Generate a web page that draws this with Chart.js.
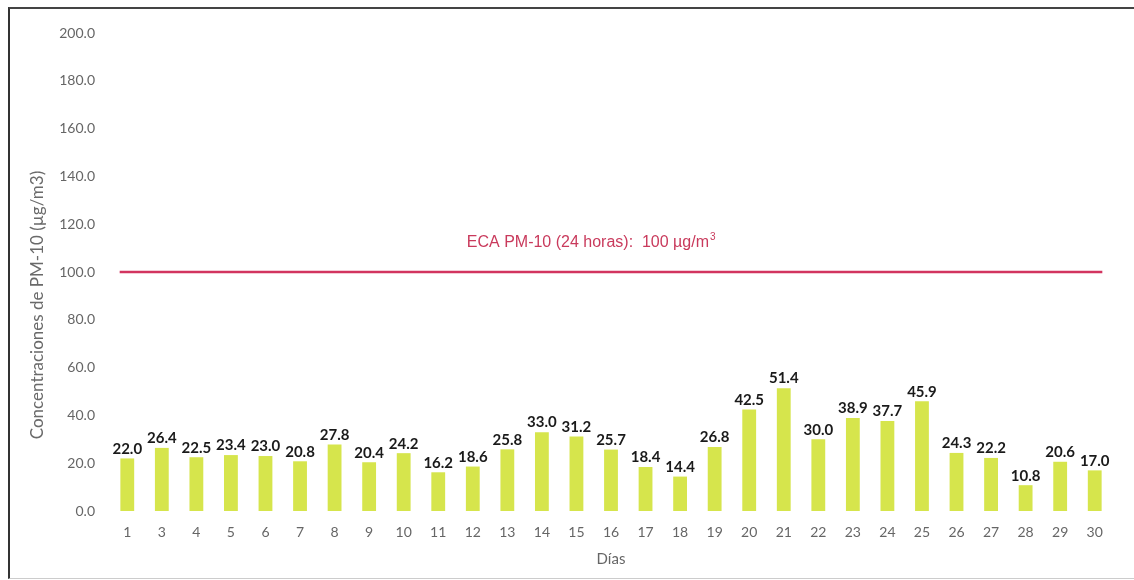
<!DOCTYPE html>
<html>
<head>
<meta charset="utf-8">
<script src="https://cdn.jsdelivr.net/npm/chart.js@4/dist/chart.umd.min.js"></script>
<style>
  html,body{margin:0;padding:0;background:#fff;}
  #wrap{position:relative;width:1134px;height:580px;}
  #frame{position:absolute;left:8px;top:7px;right:0;bottom:1px;border-left:2px solid #333;border-top:2px solid #444;border-bottom:1px solid #ccc;}
  canvas{position:absolute;left:0;top:0;}
</style>
</head>
<body>
<div id="wrap">
  <div id="frame"></div>
  <canvas id="chart" width="1134" height="580"></canvas>
</div>
<script>
// days (day 2 missing in the source)
const days = ['1','3','4','5','6','7','8','9','10','11','12','13','14','15','16','17','18','19','20','21','22','23','24','25','26','27','28','29','30'];
const pm10 = [22.0,26.4,22.5,23.4,23.0,20.8,27.8,20.4,24.2,16.2,18.6,25.8,33.0,31.2,25.7,18.4,14.4,26.8,42.5,51.4,30.0,38.9,37.7,45.9,24.3,22.2,10.8,20.6,17.0];
const ecaLimit = 100;
const yTitle = 'Concentraciones de PM-10 (\u00b5g/m3)';

// value labels above each bar
const barLabels = {
  id:'barLabels',
  afterDatasetsDraw(chart){
    const ctx = chart.ctx;
    const meta = chart.getDatasetMeta(0);
    ctx.save();
    ctx.font = 'bold 15px Lato, "Open Sans", sans-serif';
    ctx.fillStyle = '#1a1a1a';
    ctx.textAlign = 'center';
    ctx.textBaseline = 'bottom';
    meta.data.forEach((bar,i)=>{
      ctx.fillText(pm10[i].toFixed(1), bar.x, bar.y - 2);
    });
    ctx.restore();
  }
};

// ECA reference line + caption, and the y title (placed a bit below centre like the source)
const ecaLine = {
  id:'ecaLine',
  afterDatasetsDraw(chart){
    const ctx = chart.ctx;
    const x = chart.scales.x, y = chart.scales.y;
    const yp = y.getPixelForValue(ecaLimit);
    const half = (x.getPixelForValue(1) - x.getPixelForValue(0)) * 0.22;
    const x0 = x.getPixelForValue(0) - half;
    const x1 = x.getPixelForValue(days.length-1) + half;
    ctx.save();
    ctx.strokeStyle = '#d2345f';
    ctx.lineWidth = 2.5;
    ctx.beginPath(); ctx.moveTo(x0, yp); ctx.lineTo(x1, yp); ctx.stroke();
    ctx.font = '16px "Liberation Sans", Arial, sans-serif';
    ctx.fillStyle = '#c93a5c';
    ctx.textAlign = 'left';
    ctx.textBaseline = 'alphabetic';
    const tx = x.getPixelForValue(10) - 6;
    const base = 'ECA PM-10 (24 horas):  100 \u00b5g/m';
    ctx.fillText(base, tx, yp - 25);
    const w = ctx.measureText(base).width;
    ctx.font = '10px "Liberation Sans", Arial, sans-serif';
    ctx.fillText('3', tx + w + 1, yp - 32);

    // y axis title
    const a = chart.chartArea;
    ctx.translate(38, (a.top + a.bottom) / 2 + 33);
    ctx.rotate(-Math.PI / 2);
    ctx.font = '17px Lato, "Open Sans", sans-serif';
    ctx.fillStyle = '#6a6a6a';
    ctx.textAlign = 'center';
    ctx.textBaseline = 'middle';
    ctx.fillText(yTitle, 0, 0);
    ctx.restore();
  }
};

new Chart(document.getElementById('chart').getContext('2d'), {
  type:'bar',
  data:{
    labels: days,
    datasets:[{
      label:'PM-10',
      data: pm10,
      backgroundColor:'#d6e54c',
      borderWidth:0,
      barPercentage:0.8,
      categoryPercentage:0.5
    }]
  },
  options:{
    responsive:false,
    animation:false,
    layout:{ padding:{ top:33, right:22, left:0, bottom:12 } },
    plugins:{ legend:{display:false}, tooltip:{enabled:false} },
    scales:{
      y:{
        min:0, max:200,
        ticks:{ stepSize:20, color:'#666', padding:15, font:{ family:'Lato, "Open Sans", sans-serif', size:14 },
                callback:v=>v.toFixed(1) },
        grid:{ display:false, drawTicks:false },
        border:{ display:false },
        afterFit(s){ s.width = 110; }
      },
      x:{
        ticks:{ color:'#666', padding:13, font:{ family:'Lato, "Open Sans", sans-serif', size:14 } },
        grid:{ display:false, drawTicks:false },
        border:{ display:false },
        title:{ display:true, text:'D\u00edas', color:'#666',
                font:{ family:'Lato, "Open Sans", sans-serif', size:15 }, padding:{top:4,bottom:0} },
        afterFit(s){ s.height = 57; }
      }
    }
  },
  plugins:[barLabels, ecaLine]
});
</script>
</body>
</html>
